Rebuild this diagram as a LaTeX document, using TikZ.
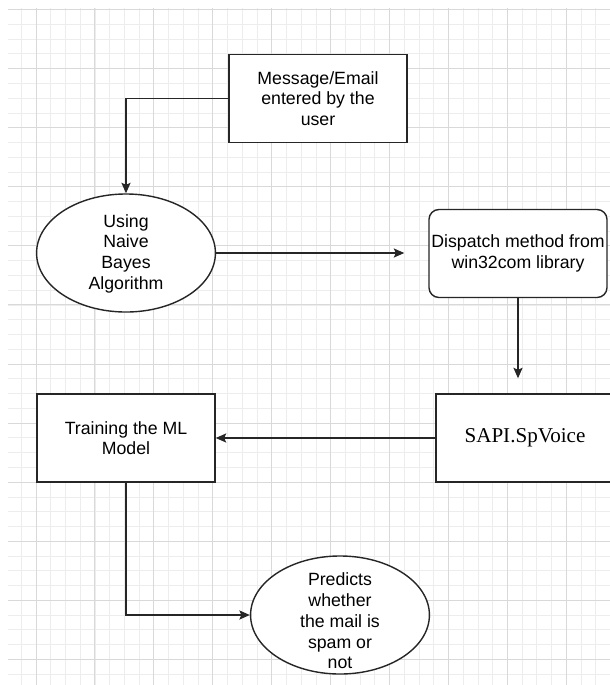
\documentclass[tikz,border=0pt]{standalone}
\usepackage{fontspec}
\setmainfont{Liberation Sans}
\newfontfamily\sapifont{Liberation Serif}
\usetikzlibrary{positioning,
        shapes.geometric,
        arrows.meta}

\tikzset{
  minorgrid/.style={draw=black!7, line width=0.5pt},
  majorgrid/.style={draw=black!15, line width=0.6pt},
  box/.style={rectangle, draw=black!85, line width=1pt, fill=white,
    minimum width=4.45cm, minimum height=2.2cm, inner sep=0pt,
    align=center, font=\fontsize{12.6}{14.7}\selectfont},
  rbox/.style={box, rounded corners=0.25cm},
  oval/.style={ellipse, draw=black!85, line width=1pt, fill=white,
    minimum width=4.47cm, minimum height=2.95cm, inner sep=0pt},
  ovaltext/.style={align=center, inner sep=0pt,
    font=\fontsize{12.6}{14.7}\selectfont},
  flow/.style={draw=black!85, line width=1pt,
    -{Stealth[length=7.5pt,width=6.5pt,inset=1.5pt]}}
}

\begin{document}
\begin{tikzpicture}[x=0.025cm,y=-0.025cm]
            \useasboundingbox (0,0) rectangle (610,685);
            % grid paper
            \begin{scope}
                \clip (8,8) rectangle (610,685);
                \foreach \i in {-1,...,39}
                    \draw[minorgrid] ({36+14.73*\i},8) -- ({36+14.73*\i},685);
                \foreach \j in {0,...,46}
                    \draw[minorgrid] (8,{9.5+14.77*\j}) -- (610,{9.5+14.77*\j});
                \foreach \i in {0,4,...,36}
                    \draw[majorgrid] ({36+14.73*\i},8) -- ({36+14.73*\i},685);
                \foreach \j in {0,4,...,44}
                    \draw[majorgrid] (8,{9.5+14.77*\j}) -- (610,{9.5+14.77*\j});
            \end{scope}

            \node [box] (msg) at (318,98.5) {Message/Email\\entered by the\\user};
            \node [oval] (nb) at (126,253) {};
            \node [ovaltext] (nbtext) at (126,253.5) {Using\\Naive\\Bayes\\Algorithm};
            \node [rbox] (disp) at (518,253.5) {Dispatch method from\\win32com library};
            \node [box,font=\sapifont\fontsize{15}{18}\selectfont] (sapi) at (525,438) {SAPI.SpVoice};
            \node [box] (train) at (126,438) {Training the ML\\Model};
            \node [oval] (pred) at (340,615) {};
            \node [ovaltext] (predtext) at (340,621) {Predicts\\whether\\the mail is\\spam or\\not};

            \draw [flow] (msg.west) -| (nb.north);
            \draw [flow, shorten >=0.6cm] (nb.east) -- (nb.east -| disp.west);
            \draw [flow, shorten >=0.375cm] (disp.south) -- (disp.south |- sapi.north);
            \draw [flow] (sapi.west) -- (train.east);
            \draw [flow] (train.south) |- (pred.west);
        \end{tikzpicture}
\end{document}
